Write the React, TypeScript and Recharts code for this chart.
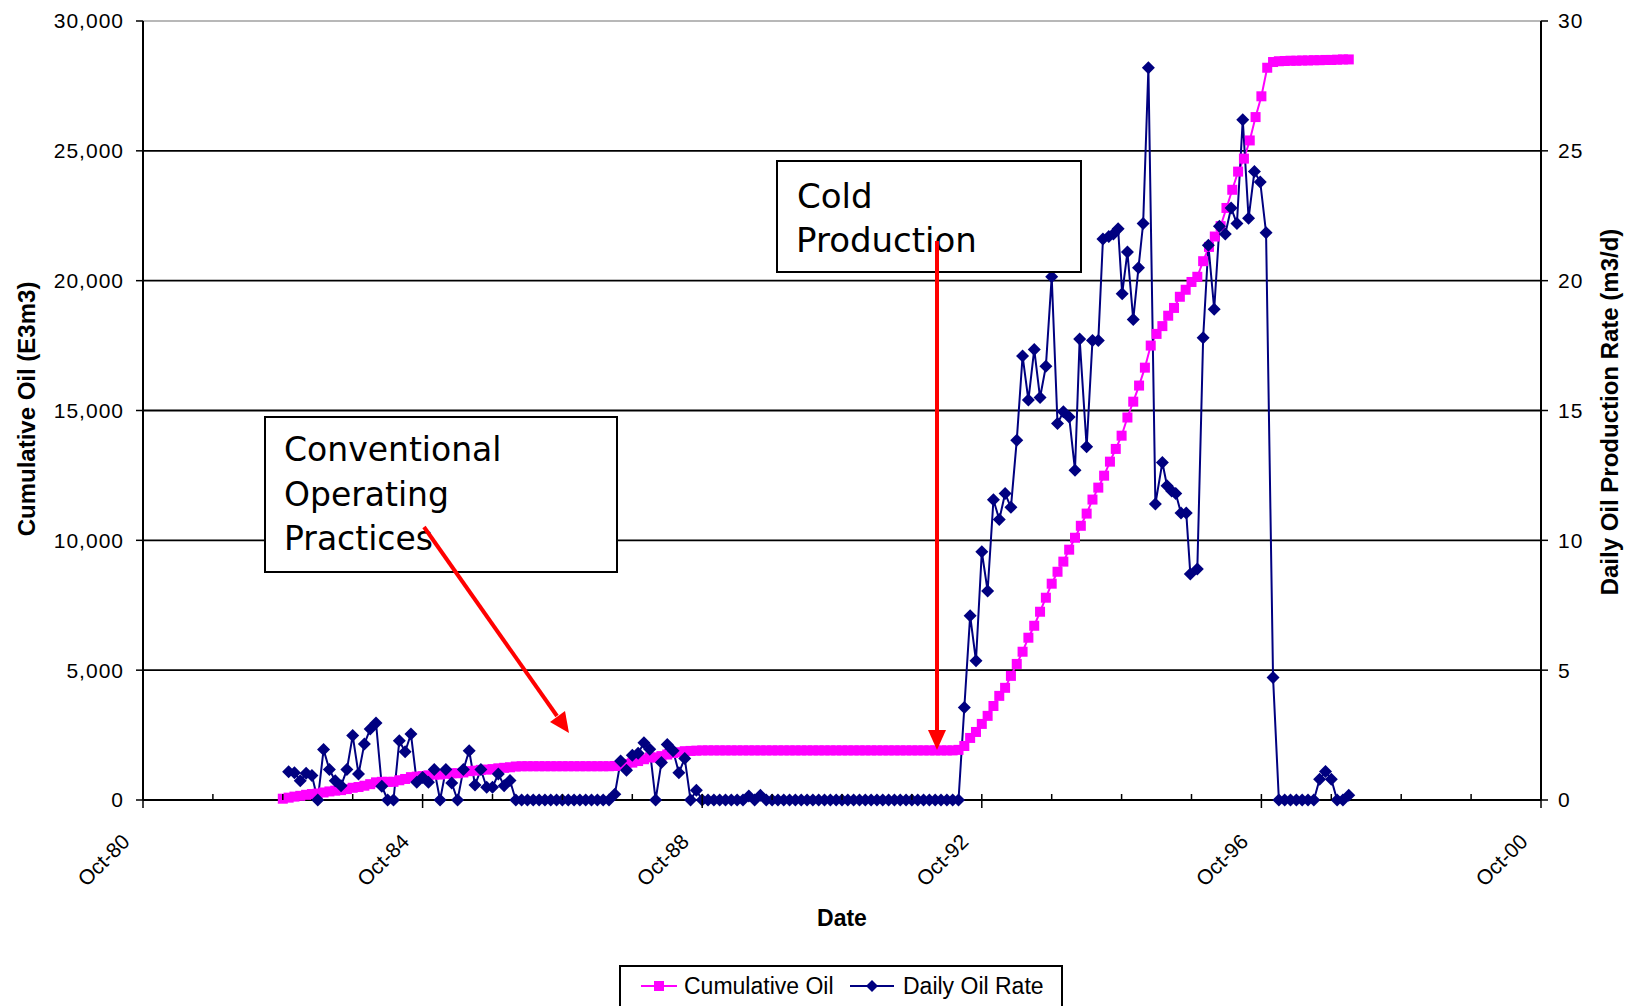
import React from "react";
import { ComposedChart, Line, XAxis, YAxis, CartesianGrid, ReferenceLine } from "recharts";

// months counted from Oct-80 (0) to Oct-00 (240)
const cumStartMonth = 24; // Oct-82, one value per month after that
const cumulativeOil = [
  50, 90, 130, 160, 200, 230, 250, 290,
  330, 360, 380, 420, 470, 500, 550, 610,
  680, 700, 700, 700, 760, 810, 880, 900,
  920, 950, 980, 980, 1010, 1030, 1030, 1060,
  1110, 1130, 1160, 1170, 1190, 1220, 1240, 1260,
  1290, 1300, 1300, 1300, 1300, 1300, 1300, 1300,
  1300, 1300, 1300, 1300, 1300, 1300, 1300, 1300,
  1300, 1310, 1350, 1390, 1440, 1500, 1570, 1640,
  1640, 1690, 1750, 1810, 1840, 1880, 1890, 1900,
  1910, 1910, 1910, 1910, 1910, 1910, 1910, 1910,
  1910, 1910, 1910, 1910, 1910, 1910, 1910, 1910,
  1910, 1910, 1910, 1910, 1910, 1910, 1910, 1910,
  1910, 1910, 1910, 1910, 1910, 1910, 1910, 1910,
  1910, 1910, 1910, 1910, 1910, 1910, 1910, 1910,
  1910, 1910, 1910, 1910,
  1930, 2080, 2390, 2620, 2930, 3240, 3620, 4010,
  4320, 4780, 5240, 5710, 6250, 6710, 7250, 7790,
  8330, 8790, 9180, 9640, 10100, 10560, 11030, 11570,
  12030, 12490, 13030, 13520, 14030, 14730, 15340, 15960,
  16650, 17500, 17950, 18250, 18650, 18950, 19380, 19650,
  19950, 20150, 20750, 21300, 21700, 22100, 22800, 23500,
  24200, 24700, 25400, 26300, 27100, 28200, 28420, 28450,
  28460, 28470, 28470, 28480, 28480, 28490, 28490, 28500,
  28500, 28510, 28520, 28520,
];

// [month, m3/d]
const dailyOilRate: [number, number][] = [
  [25, 1.09], [26, 1.05], [27, 0.74], [28, 1.03], [29, 0.94], [30, 0], [31, 1.94], [32, 1.17],
  [33, 0.74], [34, 0.55], [35, 1.17], [36, 2.48], [37, 1.0], [38, 2.16], [39, 2.73], [40, 2.97],
  [41, 0.53], [42, 0], [43, 0], [44, 2.28], [45, 1.86], [46, 2.54], [47, 0.68], [48, 0.87],
  [49, 0.68], [50, 1.17], [51, 0], [52, 1.17], [53, 0.65], [54, 0], [55, 1.17], [56, 1.9],
  [57, 0.58], [58, 1.17], [59, 0.49], [60, 0.49], [61, 1.0], [62, 0.55], [63, 0.75], [64, 0],
  [65, 0], [66, 0], [67, 0], [68, 0], [69, 0], [70, 0], [71, 0], [72, 0],
  [73, 0], [74, 0], [75, 0], [76, 0], [77, 0], [78, 0], [79, 0], [80, 0],
  [81, 0.22], [82, 1.5], [83, 1.15], [84, 1.72], [85, 1.8], [86, 2.2], [87, 1.95], [88, 0],
  [89, 1.44], [90, 2.14], [91, 1.9], [92, 1.05], [93, 1.6], [94, 0], [95, 0.38], [96, 0],
  [97, 0], [98, 0], [99, 0], [100, 0], [101, 0], [102, 0], [103, 0], [104, 0.15],
  [105, 0], [106, 0.18], [107, 0], [108, 0], [109, 0], [110, 0], [111, 0], [112, 0],
  [113, 0], [114, 0], [115, 0], [116, 0], [117, 0], [118, 0], [119, 0], [120, 0],
  [121, 0], [122, 0], [123, 0], [124, 0], [125, 0], [126, 0], [127, 0], [128, 0],
  [129, 0], [130, 0], [131, 0], [132, 0], [133, 0], [134, 0], [135, 0], [136, 0],
  [137, 0], [138, 0], [139, 0], [140, 0],
  [141, 3.56], [142, 7.1], [143, 5.36], [144, 9.56], [145, 8.05], [146, 11.56], [147, 10.8], [148, 11.8],
  [149, 11.27], [150, 13.85], [151, 17.1], [152, 15.4], [153, 17.35], [154, 15.5], [155, 16.7], [156, 20.15],
  [157, 14.5], [158, 14.95], [159, 14.75], [160, 12.7], [160.8, 17.75], [162, 13.6], [163, 17.7], [164, 17.7],
  [164.8, 21.6], [165.8, 21.7], [166.6, 21.8], [167.4, 22.0], [168.1, 19.5], [169, 21.1], [170, 18.5], [170.9, 20.5],
  [171.7, 22.2], [172.6, 28.2], [173.8, 11.4], [175, 13.0], [175.8, 12.1], [176.6, 11.9], [177.3, 11.8], [178.2, 11.05],
  [179.1, 11.05], [179.8, 8.7], [181, 8.9], [182, 17.8], [182.9, 21.36], [183.9, 18.9], [184.8, 22.1], [185.8, 21.8],
  [186.8, 22.8], [187.8, 22.2], [188.8, 26.2], [189.8, 22.4], [190.8, 24.2], [191.8, 23.8], [192.8, 21.85], [194, 4.72],
  [195, 0], [196, 0], [197, 0], [198, 0], [199, 0], [200, 0], [201, 0], [202, 0.8],
  [203, 1.1], [204, 0.8], [205, 0], [206, 0], [207, 0.18],
];

const cumTicks = [0, 5000, 10000, 15000, 20000, 25000, 30000];
const rateTicks = [0, 5, 10, 15, 20, 25, 30];
const yearTicks = [0, 12, 24, 36, 48, 60, 72, 84, 96, 108, 120, 132, 144, 156, 168, 180, 192, 204, 216, 228, 240];
const dateLabels = ["Oct-80", "Oct-84", "Oct-88", "Oct-92", "Oct-96", "Oct-00"];

const FONT = "'Liberation Sans', Arial, sans-serif";
const NOTE_FONT = "'Comic Sans MS', 'DejaVu Sans', sans-serif";
const MAGENTA = "#FF00FF";
const NAVY = "#000080";

type Row = { m: number; cum?: number; rate?: number };
const rowMap = new Map<number, Row>();
cumulativeOil.forEach((v, i) => {
  const m = cumStartMonth + i;
  rowMap.set(m, { ...(rowMap.get(m) || { m }), cum: v });
});
dailyOilRate.forEach(([m, v]) => {
  rowMap.set(m, { ...(rowMap.get(m) || { m }), rate: v });
});
const data = Array.from(rowMap.values()).sort((a, b) => a.m - b.m);

const SquareDot = (p: any) => {
  const { cx, cy, value, index } = p;
  if (cx == null || cy == null || value == null) return <g key={`sq-${index}`} />;
  return <rect key={`sq-${index}`} x={cx - 5} y={cy - 5} width={10} height={10} fill={MAGENTA} />;
};

const DiamondDot = (p: any) => {
  const { cx, cy, value, index } = p;
  if (cx == null || cy == null || value == null) return <g key={`dm-${index}`} />;
  return (
    <polygon
      key={`dm-${index}`}
      points={`${cx},${cy - 6.5} ${cx + 6.5},${cy} ${cx},${cy + 6.5} ${cx - 6.5},${cy}`}
      fill={NAVY}
    />
  );
};

const DateTick = (p: any) => {
  const { x, y, payload } = p;
  const v = payload.value as number;
  const major = v % 48 === 0;
  const lx = x - 12;
  const ly = y + 43;
  return (
    <g>
      <line x1={x} x2={x} y1={y - 6} y2={major ? y + 8 : y} stroke="#000" strokeWidth={1.5} />
      {major && (
        <text
          x={lx}
          y={ly}
          transform={`rotate(-45 ${lx} ${ly})`}
          textAnchor="end"
          fontSize={21}
          fontFamily={FONT}
          fill="#000"
        >
          {dateLabels[v / 48]}
        </text>
      )}
    </g>
  );
};

export default function App() {
  return (
    <div style={{ position: "absolute", left: 0, top: 0, width: 1629, height: 1006, background: "#fff", overflow: "hidden" }}>
      <ComposedChart width={1629} height={1006} data={data} margin={{ top: 21, right: 0, bottom: 0, left: 0 }}>
        <CartesianGrid yAxisId="cum" vertical={false} stroke="#000" strokeWidth={1.8} />
        <ReferenceLine yAxisId="cum" y={30000} stroke="#b8b8b8" strokeWidth={2} />
        <XAxis
          dataKey="m"
          type="number"
          domain={[0, 240]}
          ticks={yearTicks}
          interval={0}
          height={206}
          tickSize={0}
          tickMargin={0}
          tickLine={false}
          axisLine={{ stroke: "#000", strokeWidth: 2 }}
          tick={<DateTick />}
        />
        <YAxis
          yAxisId="cum"
          domain={[0, 30000]}
          ticks={cumTicks}
          interval={0}
          width={143}
          tickSize={7}
          tickMargin={12}
          tickFormatter={(v: number) => v.toLocaleString("en-US")}
          axisLine={{ stroke: "#000", strokeWidth: 2 }}
          tickLine={{ stroke: "#000", strokeWidth: 1.5 }}
          tick={{ fill: "#000", fontSize: 21, fontFamily: FONT, letterSpacing: 1 }}
        />
        <YAxis
          yAxisId="rate"
          orientation="right"
          domain={[0, 30]}
          ticks={rateTicks}
          interval={0}
          width={88}
          tickSize={7}
          tickMargin={10}
          axisLine={{ stroke: "#000", strokeWidth: 2 }}
          tickLine={{ stroke: "#000", strokeWidth: 1.5 }}
          tick={{ fill: "#000", fontSize: 21, fontFamily: FONT, letterSpacing: 1 }}
        />
        <Line
          yAxisId="cum"
          dataKey="cum"
          type="linear"
          stroke={MAGENTA}
          strokeWidth={2}
          dot={SquareDot}
          activeDot={false}
          connectNulls
          isAnimationActive={false}
        />
        <Line
          yAxisId="rate"
          dataKey="rate"
          type="linear"
          stroke={NAVY}
          strokeWidth={2}
          dot={DiamondDot}
          activeDot={false}
          connectNulls
          isAnimationActive={false}
        />
      </ComposedChart>

      <svg width={1629} height={1006} style={{ position: "absolute", left: 0, top: 0, pointerEvents: "none" }}>
        {/* axis titles */}
        <text transform="translate(26,409) rotate(-90)" textAnchor="middle" dominantBaseline="central"
          fontFamily={FONT} fontWeight="bold" fontSize={24} fill="#000">Cumulative Oil (E3m3)</text>
        <text transform="translate(1609,412) rotate(-90)" textAnchor="middle" dominantBaseline="central"
          fontFamily={FONT} fontWeight="bold" fontSize={24} fill="#000">Daily Oil Production Rate (m3/d)</text>
        <text x={842} y={918} textAnchor="middle" dominantBaseline="central"
          fontFamily={FONT} fontWeight="bold" fontSize={23} fill="#000">Date</text>

        {/* annotations */}
        <rect x={265} y={417} width={352} height={155} fill="#fff" stroke="#000" strokeWidth={2} />
        <text fontFamily={NOTE_FONT} fontSize={33} fill="#000">
          <tspan x={284} y={461}>Conventional</tspan>
          <tspan x={284} y={506}>Operating</tspan>
          <tspan x={284} y={550}>Practices</tspan>
        </text>
        <rect x={777} y={161} width={304} height={111} fill="#fff" stroke="#000" strokeWidth={2} />
        <text fontFamily={NOTE_FONT} fontSize={34} fill="#000">
          <tspan x={797} y={208}>Cold</tspan>
          <tspan x={796} y={252}>Production</tspan>
        </text>

        <line x1={424} y1={527} x2={557} y2={716} stroke="#FF0000" strokeWidth={4} />
        <polygon points="569,733 550,722 565,711" fill="#FF0000" />
        <line x1={937} y1={241} x2={937} y2={732} stroke="#FF0000" strokeWidth={4} />
        <polygon points="937,750 928,730 946,730" fill="#FF0000" />

        {/* legend */}
        <rect x={620} y={966} width={442} height={50} fill="#fff" stroke="#000" strokeWidth={2} />
        <line x1={641} y1={986} x2={677} y2={986} stroke={MAGENTA} strokeWidth={2} />
        <rect x={654} y={981} width={10} height={10} fill={MAGENTA} />
        <text x={684} y={994} fontFamily={FONT} fontSize={23} fill="#000">Cumulative Oil</text>
        <line x1={850} y1={986} x2={894} y2={986} stroke={NAVY} strokeWidth={2} />
        <polygon points="872,980 878,986 872,992 866,986" fill={NAVY} />
        <text x={903} y={994} fontFamily={FONT} fontSize={23} fill="#000">Daily Oil Rate</text>
      </svg>
    </div>
  );
}
